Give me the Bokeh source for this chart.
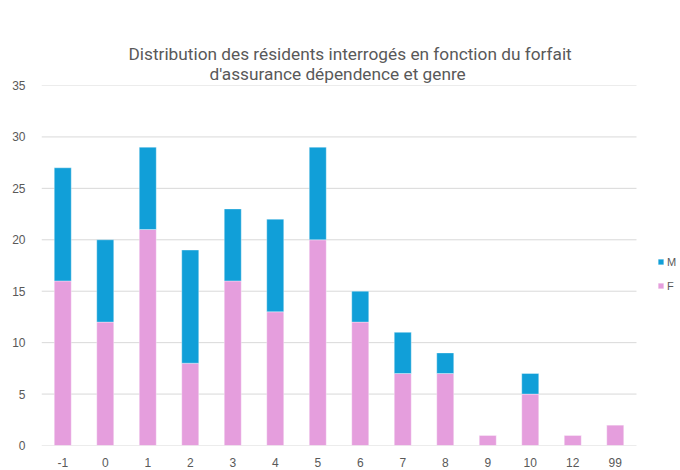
from bokeh.plotting import figure
from bokeh.models import ColumnDataSource, Legend, LegendItem, Range1d, FixedTicker, Title
from bokeh.embed import file_html
from bokeh.resources import INLINE

categories = ["-1", "0", "1", "2", "3", "4", "5", "6", "7", "8", "9", "10", "12", "99"]
F = [16, 12, 21, 8, 16, 13, 20, 12, 7, 7, 1, 5, 1, 2]
M = [11, 8, 8, 11, 7, 9, 9, 3, 4, 2, 0, 2, 0, 0]
y_ticks = [0, 5, 10, 15, 20, 25, 30, 35]
title_line1 = "Distribution des résidents interrogés en fonction du forfait"
title_line2 = "d'assurance dépendence et genre"

PINK = "#E59EDD"
BLUE = "#119FD8"
GRID = "#D9D9D9"
TXT = "#595959"
TFONT = "Roboto"

n = len(categories)
xs = list(range(n))
source = ColumnDataSource(dict(x=xs, cat=categories, F=F, M=M))

# frame spans from x=41 to the right edge; the category area ends at 636 px
x_end = -0.5 + n * (680 - 41) / (636 - 41)
p = figure(x_range=Range1d(-0.5, x_end), y_range=Range1d(0, 35),
           width=680, height=470, output_backend="svg", toolbar_location=None,
           min_border_left=41, min_border_right=0, min_border_top=85, min_border_bottom=25)

# horizontal gridlines limited to the category area
p.segment(x0=-0.5, x1=n - 0.5, y0=y_ticks, y1=y_ticks, line_color=GRID, line_width=1)

r = p.vbar_stack(["F", "M"], x="x", width=0.4, color=[PINK, BLUE], source=source,
                 line_color="white", line_alpha=0.35, line_width=1)

p.title.text = title_line1
p.title.align = "left"
p.title.text_font = TFONT
p.title.text_font_size = "17.25px"
p.title.text_font_style = "normal"
p.title.text_color = TXT
p.title.standoff = 0
p.title.offset = 87
t2 = Title(text=title_line2, align="left", text_font=TFONT, text_font_size="17.25px",
           text_font_style="normal", text_color=TXT, standoff=0, offset=168,
           vertical_align="top")
p.add_layout(t2, "above")

p.yaxis.ticker = FixedTicker(ticks=y_ticks)
p.yaxis.axis_line_color = None
p.yaxis.major_tick_line_color = None
p.yaxis.minor_tick_line_color = None
p.yaxis.major_label_standoff = 10
p.xaxis.ticker = FixedTicker(ticks=xs)
p.xaxis.major_label_overrides = {i: c for i, c in zip(xs, categories)}
p.xaxis.axis_line_color = None
p.xaxis.major_tick_line_color = None
p.xaxis.minor_tick_line_color = None
p.xaxis.major_label_standoff = 6
for ax in (p.xaxis, p.yaxis):
    ax.major_label_text_font = "Liberation Sans"
    ax.major_label_text_font_size = "12px"
    ax.major_label_text_color = TXT

p.xgrid.grid_line_color = None
p.ygrid.grid_line_color = None
p.outline_line_color = None

legend = Legend(items=[LegendItem(label="M", renderers=[r[1]]),
                       LegendItem(label="F", renderers=[r[0]])],
                location=(616, 149))
legend.background_fill_alpha = 0
legend.border_line_color = None
legend.padding = 0
legend.margin = 0
legend.spacing = 3
legend.glyph_width = 7
legend.glyph_height = 7
legend.label_height = 21
legend.label_standoff = 3
legend.label_text_font = "Liberation Sans"
legend.label_text_font_size = "11px"
legend.label_text_color = TXT
p.add_layout(legend)

open("out.html", "w").write(file_html(p, INLINE))
